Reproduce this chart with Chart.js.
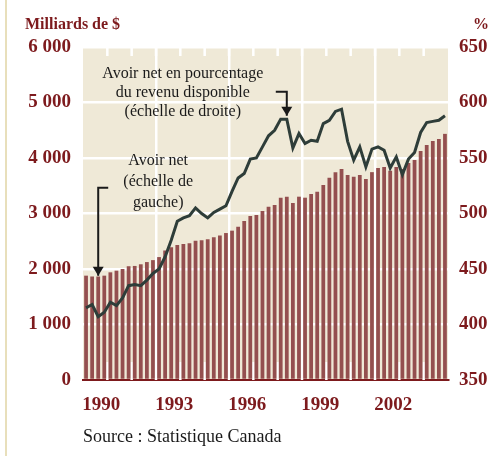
<!DOCTYPE html>
<html lang="fr">
<head>
<meta charset="utf-8">
<script src="https://cdn.jsdelivr.net/npm/chart.js@4/dist/chart.umd.min.js"></script>
<style>
  body { margin: 0; background: #ffffff; }
  #boite { width: 504px; height: 456px; position: relative; }
</style>
</head>
<body>
<div id="boite"><canvas id="graphique" width="504" height="456"></canvas></div>
<script>
//------ DONNEES --------//

// trimestres de 1990 à 2004
const annees = [1990, 1991, 1992, 1993, 1994, 1995, 1996, 1997, 1998, 1999, 2000, 2001, 2002, 2003, 2004];
const trimestres = [];
for (let a = 0; a < annees.length; a++) {
  for (let t = 1; t <= 4; t++) {
    trimestres.push(annees[a] + 'T' + t);
  }
}

// Avoir net (milliards de $, échelle de gauche)
const avoirNet = [
  1880, 1865, 1865, 1880, 1940, 1970, 2000, 2050, 2055, 2085, 2125, 2160,
  2215, 2335, 2390, 2432, 2450, 2462, 2510, 2517, 2535, 2571, 2605, 2648,
  2691, 2763, 2865, 2955, 2973, 3045, 3123, 3153, 3285, 3303, 3189, 3303,
  3285, 3351, 3393, 3513, 3645, 3745, 3800, 3693, 3663, 3693, 3621, 3745,
  3820, 3840, 3770, 3840, 3800, 3910, 3965, 4126, 4234, 4306, 4342, 4435
];

// Avoir net en pourcentage du revenu disponible (%, échelle de droite)
const avoirPourcentage = [
  415, 418, 407, 411, 420, 417, 424, 435, 436, 435, 440, 446,
  450, 461, 476, 493, 496, 498, 505, 500, 496, 501, 504, 507,
  520, 532, 536, 549, 550, 560, 570, 575, 585, 585, 559, 572,
  563, 566, 565, 581, 584, 592, 594, 565, 548, 560, 542, 558,
  560, 557, 541, 551, 535, 549, 555, 573, 582, 583, 584, 588
];

// graduations
const ticksGauche = [0, 1000, 2000, 3000, 4000, 5000, 6000];
const ticksDroite = [350, 400, 450, 500, 550, 600, 650];
const anneesAffichees = ['1990', '1993', '1996', '1999', '2002'];

//------ STYLE --------//
const rougeFonce = '#7d1a1d';
const couleurBarres = '#944f4f';
const couleurLigne = '#2e3d39';
const fondBeige = '#efe9d7';
const police = '"Liberation Serif", "Times New Roman", serif';

function formatMilliers(v) {
  return String(v).replace(/\B(?=(\d{3})+(?!\d))/g, ' ');
}

// fond beige de la zone du graphique + petit trait à gauche de la page
const fondPlugin = {
  id: 'fond',
  beforeDraw(chart) {
    const c = chart.ctx;
    const a = chart.chartArea;
    c.save();
    c.fillStyle = '#ffffff';
    c.fillRect(0, 0, chart.width, chart.height);
    c.fillStyle = '#e8dfbb';
    c.fillRect(5, 0, 2, chart.height);
    c.fillStyle = fondBeige;
    c.fillRect(a.left, a.top, a.right - a.left, a.bottom - a.top);
    c.restore();
  },
  // petits traits blancs en haut et en bas à chaque début d'année
  beforeDatasetsDraw(chart) {
    const c = chart.ctx;
    const a = chart.chartArea;
    const x = chart.scales.x;
    c.save();
    c.strokeStyle = '#ffffff';
    c.lineWidth = 2.5;
    for (let i = 4; i < trimestres.length; i += 4) {
      const px = (x.getPixelForValue(i - 1) + x.getPixelForValue(i)) / 2;
      c.beginPath();
      c.moveTo(px, a.top);
      c.lineTo(px, a.top + 9);
      c.moveTo(px, a.bottom - 18);
      c.lineTo(px, a.bottom);
      c.stroke();
    }
    c.restore();
  }
};

// textes et flèches
function fleche(c, pts) {
  c.beginPath();
  c.moveTo(pts[0][0], pts[0][1]);
  for (let i = 1; i < pts.length; i++) c.lineTo(pts[i][0], pts[i][1]);
  c.stroke();
  const bout = pts[pts.length - 1];
  c.beginPath();
  c.moveTo(bout[0], bout[1]);
  c.lineTo(bout[0] - 5.5, bout[1] - 9);
  c.lineTo(bout[0] + 5.5, bout[1] - 9);
  c.closePath();
  c.fill();
}

const textesPlugin = {
  id: 'textes',
  afterDraw(chart) {
    const c = chart.ctx;
    const x = chart.scales.x;
    const y = chart.scales.y;
    const y1 = chart.scales.y1;
    c.save();
    c.fillStyle = rougeFonce;
    c.font = 'bold 16px ' + police;
    c.textBaseline = 'alphabetic';
    c.textAlign = 'left';
    c.fillText('Milliards de $', 25, 29);
    c.textAlign = 'right';
    c.fillText('%', 489, 29);

    c.fillStyle = '#1a1a1a';
    c.font = '18px ' + police;
    c.textAlign = 'left';
    c.fillText('Source : Statistique Canada', 83, 442);

    // annotation pourcentage
    c.strokeStyle = '#1a1a1a';
    c.lineWidth = 2;
    c.font = '16px ' + police;
    c.textAlign = 'center';
    c.textBaseline = 'middle';
    const bx = x.getPixelForValue(33);
    const by = y1.getPixelForValue(588);
    fleche(c, [[bx - 11, by - 24], [bx, by - 24], [bx, by]]);
    c.fillText('Avoir net en pourcentage', bx - 104, by - 42);
    c.fillText('du revenu disponible', bx - 104, by - 23);
    c.fillText('(échelle de droite)', bx - 104, by - 4);

    // annotation avoir net
    const ax = x.getPixelForValue(2);
    const ay = y.getPixelForValue(1880);
    fleche(c, [[ax + 10, ay - 88], [ax, ay - 88], [ax, ay]]);
    c.fillText('Avoir net', ax + 60, ay - 115);
    c.fillText('(échelle de', ax + 60, ay - 94);
    c.fillText('gauche)', ax + 60, ay - 73);
    c.restore();
  }
};

//------ GRAPHIQUE --------//
const ctx = document.getElementById('graphique').getContext('2d');
const monGraphique = new Chart(ctx, {
  type: 'bar',
  data: {
    labels: trimestres,
    datasets: [
      {
        type: 'line',
        label: 'Avoir net en pourcentage du revenu disponible',
        data: avoirPourcentage,
        yAxisID: 'y1',
        borderColor: couleurLigne,
        borderWidth: 3,
        pointRadius: 0,
        tension: 0,
        order: 0
      },
      {
        label: 'Avoir net',
        data: avoirNet,
        yAxisID: 'y',
        backgroundColor: couleurBarres,
        barPercentage: 0.62,
        categoryPercentage: 1,
        order: 1
      }
    ]
  },
  options: {
    responsive: false,
    animation: false,
    devicePixelRatio: 1,
    layout: { padding: { top: 47, left: 0, right: 0, bottom: 0 } },
    plugins: {
      legend: { display: false },
      tooltip: { enabled: false }
    },
    scales: {
      x: {
        offset: true,
        afterFit(scale) { scale.height = 76; },
        border: { display: true, color: rougeFonce, width: 2 },
        grid: {
          offset: true,
          drawTicks: false,
          lineWidth: 2.5,
          color: (c) => (c.index > 0 && c.index % 12 === 0) ? '#ffffff' : 'rgba(0,0,0,0)'
        },
        ticks: {
          autoSkip: false,
          maxRotation: 0,
          padding: 14,
          labelOffset: 3,
          color: rougeFonce,
          font: { family: police, size: 19, weight: 'bold' },
          callback: function (v, i) {
            const an = trimestres[i].slice(0, 4);
            return (i % 4 === 2 && anneesAffichees.includes(an)) ? an : '';
          }
        }
      },
      y: {
        position: 'left',
        min: ticksGauche[0],
        max: ticksGauche[ticksGauche.length - 1],
        afterFit(scale) { scale.width = 83; },
        afterBuildTicks(scale) { scale.ticks = ticksGauche.map(v => ({ value: v })); },
        border: { display: false },
        grid: { color: '#ffffff', lineWidth: 2.5, drawTicks: false },
        ticks: {
          padding: 12,
          color: rougeFonce,
          font: { family: police, size: 19, weight: 'bold' },
          callback: (v) => formatMilliers(v)
        }
      },
      y1: {
        position: 'right',
        min: ticksDroite[0],
        max: ticksDroite[ticksDroite.length - 1],
        afterFit(scale) { scale.width = 56; },
        afterBuildTicks(scale) { scale.ticks = ticksDroite.map(v => ({ value: v })); },
        border: { display: false },
        grid: { display: false, drawTicks: false },
        ticks: {
          padding: 11,
          color: rougeFonce,
          font: { family: police, size: 19, weight: 'bold' }
        }
      }
    }
  },
  plugins: [fondPlugin, textesPlugin]
});
</script>
</body>
</html>
